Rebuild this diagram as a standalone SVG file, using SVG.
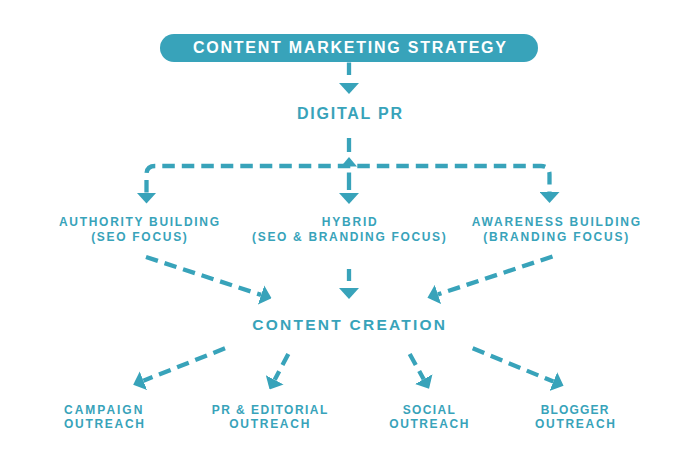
<svg xmlns="http://www.w3.org/2000/svg" width="695" height="467" viewBox="0 0 695 467">
<defs>
<style>
.t{font-family:'Liberation Sans',Arial,sans-serif;font-weight:700;fill:#38a3ba;text-anchor:middle}
.big{font-size:16px}
.sm{font-size:12px}
.w{fill:#ffffff}
.l{fill:none;stroke:#38a3ba;stroke-width:4.3;stroke-dasharray:12.5 7}
.h{fill:#38a3ba}
</style>
<marker id="ah" markerUnits="userSpaceOnUse" viewBox="0 0 11 20" refX="0" refY="10" markerWidth="11" markerHeight="20" orient="auto-start-reverse">
<path d="M0 0 L11 10 L0 20 Z" fill="#38a3ba"/>
</marker>
</defs>
<rect x="0" y="0" width="695" height="467" fill="#ffffff"/>

<g id="connectors">
<path class="l" d="M349 62.5 V83" style="stroke-dasharray:12.5 30" marker-end="url(#ah)"/>
<path class="l" d="M349 138 V152" style="stroke-dasharray:none"/>
<polygon class="h" points="349,157 357,166.5 341,166.5"/>
<path class="l" d="M146.5 192.5 V174.5 Q146.5 166 155 166 H541 Q549.5 166 549.5 174.5 V192" marker-start="url(#ah)" marker-end="url(#ah)"/>
<path class="l" d="M349 172.5 V193" style="stroke-dasharray:17.5 10" marker-end="url(#ah)"/>
<path class="l" d="M146 257 L261.1 294.9" marker-end="url(#ah)"/>
<path class="l" d="M349 269 V288" style="stroke-dasharray:12 20" marker-end="url(#ah)"/>
<path class="l" d="M552.5 256.5 L437.9 294.4" marker-end="url(#ah)"/>
<path class="l" d="M225 348.3 L143.4 380.7" marker-end="url(#ah)"/>
<path class="l" d="M288.3 354 L274.7 379.8" marker-end="url(#ah)"/>
<path class="l" d="M409.7 354 L423.7 379.2" marker-end="url(#ah)"/>
<path class="l" d="M472.7 348.3 L553.4 381.6" marker-end="url(#ah)"/>
</g>

<g id="content-marketing-strategy">
<rect x="160" y="34" width="378" height="28" rx="14" ry="14" fill="#38a3ba"/>
<text class="t big w" x="349.5" y="53.3" textLength="313" lengthAdjust="spacing">CONTENT MARKETING STRATEGY</text>
</g>

<g id="digital-pr">
<text class="t big" x="349.5" y="119.3" textLength="105" lengthAdjust="spacing">DIGITAL PR</text>
</g>

<g id="authority-building">
<text class="t sm" x="139" y="226" textLength="160" lengthAdjust="spacing">AUTHORITY BUILDING</text>
<text class="t sm" x="139" y="240.7" textLength="95.7" lengthAdjust="spacing">(SEO FOCUS)</text>
</g>

<g id="hybrid">
<text class="t sm" x="349.2" y="226" textLength="55" lengthAdjust="spacing">HYBRID</text>
<text class="t sm" x="348.9" y="240.7" textLength="193.7" lengthAdjust="spacing">(SEO &amp; BRANDING FOCUS)</text>
</g>

<g id="awareness-building">
<text class="t sm" x="555.9" y="226" textLength="168.3" lengthAdjust="spacing">AWARENESS BUILDING</text>
<text class="t sm" x="555.8" y="240.7" textLength="145" lengthAdjust="spacing">(BRANDING FOCUS)</text>
</g>

<g id="content-creation">
<text class="t" style="font-size:15.5px" x="348.7" y="330" textLength="192.7" lengthAdjust="spacing">CONTENT CREATION</text>
</g>

<g id="campaign-outreach">
<text class="t sm" x="103.2" y="414" textLength="78.3" lengthAdjust="spacing">CAMPAIGN</text>
<text class="t sm" x="104" y="428.3" textLength="80" lengthAdjust="spacing">OUTREACH</text>
</g>

<g id="pr-editorial-outreach">
<text class="t sm" x="269.5" y="414" textLength="115.6" lengthAdjust="spacing">PR &amp; EDITORIAL</text>
<text class="t sm" x="269.3" y="428.3" textLength="80" lengthAdjust="spacing">OUTREACH</text>
</g>

<g id="social-outreach">
<text class="t sm" x="428.8" y="414" textLength="52.3" lengthAdjust="spacing">SOCIAL</text>
<text class="t sm" x="428.8" y="428.3" textLength="79" lengthAdjust="spacing">OUTREACH</text>
</g>

<g id="blogger-outreach">
<text class="t sm" x="574.5" y="414" textLength="67.6" lengthAdjust="spacing">BLOGGER</text>
<text class="t sm" x="575" y="428.3" textLength="80" lengthAdjust="spacing">OUTREACH</text>
</g>
</svg>
